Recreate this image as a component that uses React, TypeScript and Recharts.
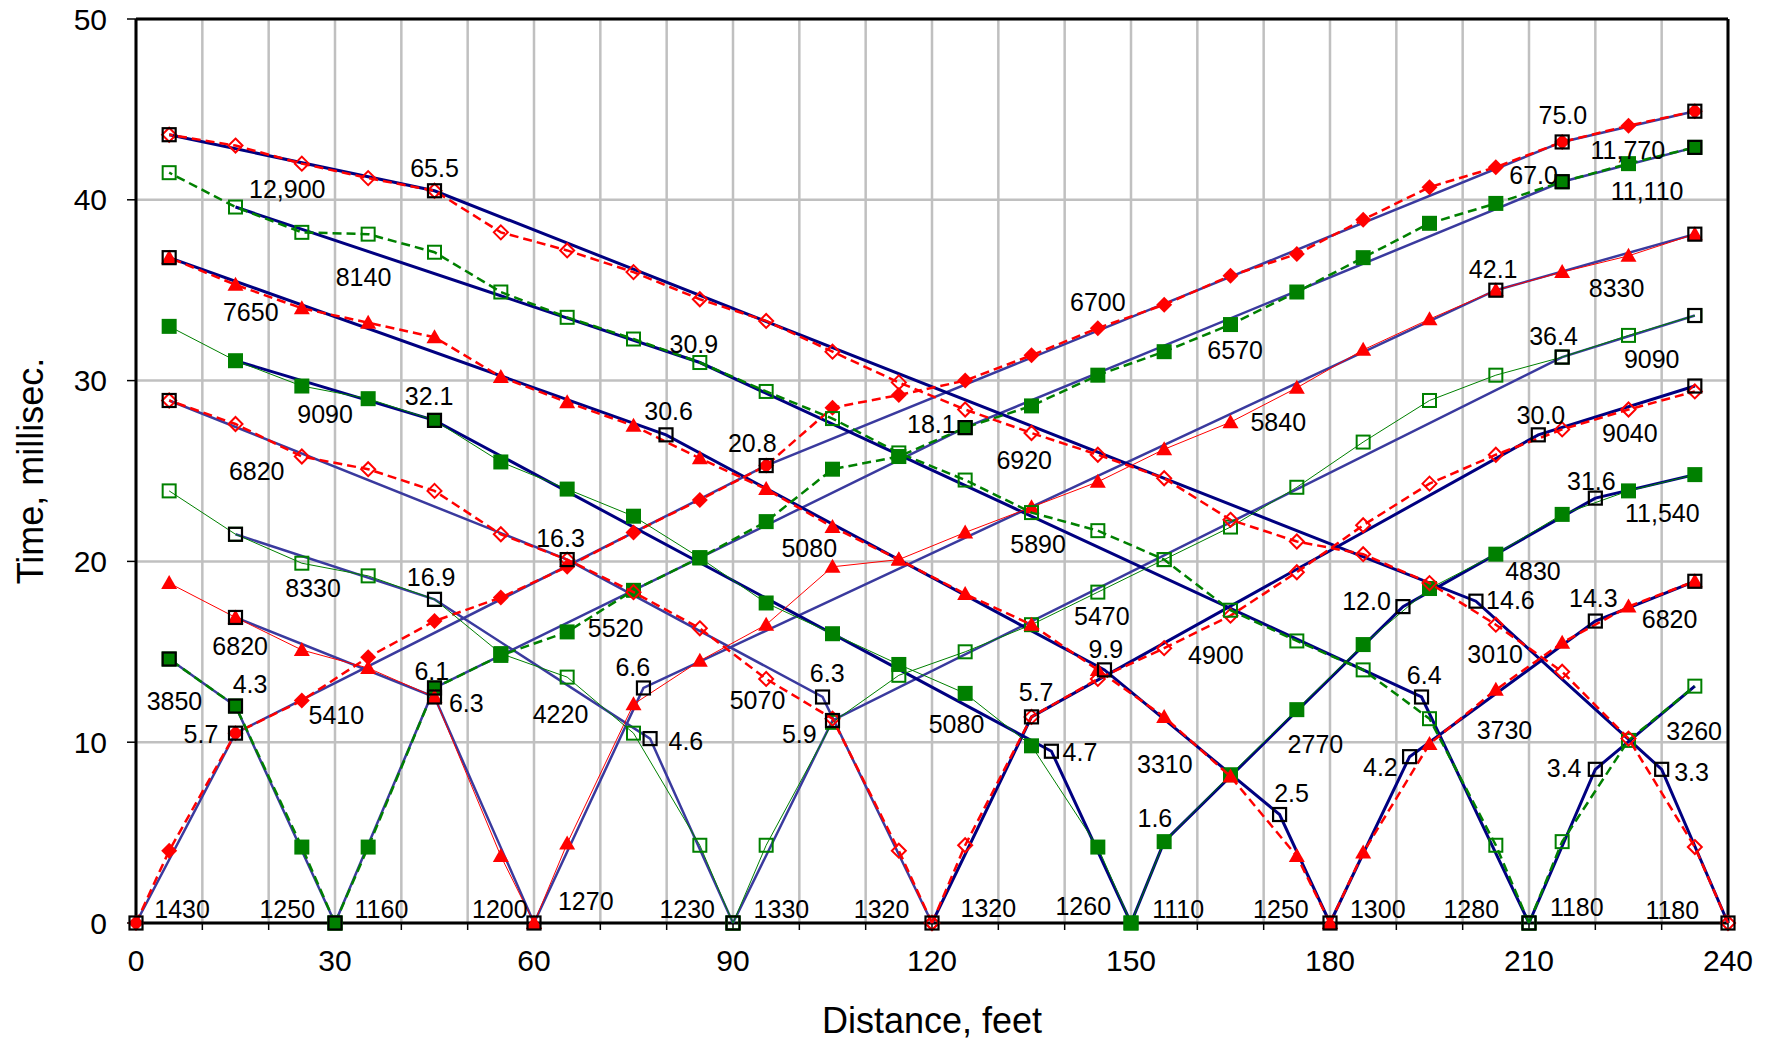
import React from 'react';
import { ScatterChart, Scatter, XAxis, YAxis, CartesianGrid, ReferenceLine } from 'recharts';

const FONT = '"Liberation Sans", Arial, sans-serif';
const RED = '#ff0000';
const GREEN = '#008000';
const NAVY = '#000080';
const BLUE = '#3a3a9e';

// geophone positions, feet
const geophoneX = [5, 15, 25, 35, 45, 55, 65, 75, 85, 95, 105, 115, 125, 135, 145, 155, 165, 175, 185, 195, 205, 215, 225, 235];

// first-arrival times (ms) at each geophone, one list per shot point
const shot0 = [4.0, 10.5, 12.3, 14.7, 16.7, 18.0, 19.7, 21.6, 23.4, 25.3, 28.5, 29.2, 30.0, 31.4, 32.9, 34.2, 35.8, 37.0, 38.9, 40.7, 41.8, 43.2, 44.1, 44.9];
const shot30 = [14.6, 12.0, 4.2, 4.2, 13.0, 14.8, 16.1, 18.4, 20.2, 22.2, 25.1, 25.8, 27.4, 28.6, 30.3, 31.6, 33.1, 34.9, 36.8, 38.7, 39.8, 41.0, 42.0, 42.9];
const shot60 = [18.8, 16.9, 15.1, 14.1, 12.5, 3.7, 4.4, 12.1, 14.5, 16.5, 19.7, 20.1, 21.6, 23.0, 24.4, 26.2, 27.7, 29.6, 31.7, 33.4, 35.0, 36.0, 36.9, 38.1];
const shot90 = [23.9, 21.5, 19.9, 19.2, 17.9, 14.9, 13.6, 10.5, 4.3, 4.3, 11.1, 13.7, 15.0, 16.5, 18.3, 20.1, 21.9, 24.1, 26.6, 28.9, 30.3, 31.3, 32.5, 33.6];
const shot120 = [28.9, 27.6, 25.8, 25.1, 23.9, 21.5, 20.1, 18.3, 16.3, 13.5, 11.3, 4.0, 4.3, 11.4, 13.5, 15.2, 17.0, 19.4, 22.0, 24.3, 25.9, 27.3, 28.4, 29.4];
const shot150 = [33.0, 31.1, 29.7, 29.0, 27.8, 25.5, 24.0, 22.5, 20.2, 17.7, 16.0, 14.3, 12.7, 9.8, 4.2, 4.5, 8.2, 11.8, 15.4, 18.5, 20.4, 22.6, 23.9, 24.8];
const shot180 = [36.8, 35.3, 34.0, 33.2, 32.4, 30.2, 28.8, 27.5, 25.7, 24.0, 21.9, 20.1, 18.2, 16.5, 14.0, 11.4, 8.1, 3.7, 3.9, 9.9, 12.9, 15.5, 17.5, 18.9];
const shot210 = [41.5, 39.6, 38.2, 38.1, 37.1, 34.9, 33.5, 32.3, 31.0, 29.4, 27.9, 26.0, 24.5, 22.7, 21.7, 20.1, 17.3, 15.6, 14.0, 11.3, 4.3, 4.5, 10.1, 13.1];
const shot240 = [43.6, 43.0, 42.0, 41.2, 40.5, 38.2, 37.2, 36.0, 34.5, 33.3, 31.6, 29.9, 28.4, 27.1, 25.9, 24.6, 22.3, 21.1, 20.4, 18.8, 16.5, 13.9, 10.2, 4.2];

// fitted segments [x, t], forward (F) and reverse (R) per shot
const fit0F = [[0, 0], [15, 10.5], [95, 25.3], [215, 43.2], [235, 44.9]];
const fit30R = [[30, 0], [15, 12.0], [5, 14.6]];
const fit30F = [[30, 0], [45, 13.0], [125, 27.4], [215, 41.0], [235, 42.9]];
const fit60R = [[60, 0], [45, 12.5], [15, 16.9]];
const fit60F = [[60, 0], [76.5, 13.0], [205, 35.0], [235, 38.1]];
const fit90R = [[90, 0], [77.5, 10.2], [45, 17.9], [15, 21.5]];
const fit90F = [[90, 0], [105, 11.2], [215, 31.3], [235, 33.6]];
const fit120R = [[120, 0], [103.5, 12.5], [65, 20.1], [5, 28.9]];
const fit120F = [[120, 0], [135, 11.4], [211.4, 27.0], [235, 29.7]];
const fit150R = [[150, 0], [138, 9.5], [45, 27.8], [15, 31.1]];
const fit150F = [[150, 0], [155, 4.5], [191, 17.5], [220, 23.5], [235, 24.8]];
const fit180R = [[180, 0], [172.4, 6.0], [146, 14.0], [79.9, 27.0], [5, 36.8]];
const fit180F = [[180, 0], [192, 9.2], [220, 16.7], [235, 18.9]];
const fit210R = [[210, 0], [193.8, 12.5], [85, 31.0], [15, 39.6]];
const fit210F = [[210, 0], [220, 8.5], [235, 13.1]];
const fit240R = [[240, 0], [230, 8.5], [202, 17.8], [45, 40.5], [5, 43.6]];

// break points marked with open black squares
const breakPoints = [
  [0, 0], [5, 43.6], [5, 36.8], [5, 28.9], [5, 14.6], [15, 21.5], [15, 16.9], [15, 12.0], [15, 10.5],
  [30, 0], [45, 40.5], [45, 27.8], [45, 17.9], [45, 13.0], [45, 12.5], [60, 0], [65, 20.1], [76.5, 13.0],
  [77.5, 10.2], [79.9, 27.0], [90, 0], [95, 25.3], [103.5, 12.5], [105, 11.2], [120, 0], [125, 27.4],
  [135, 11.4], [138, 9.5], [146, 14.0], [172.4, 6.0], [180, 0], [191, 17.5], [192, 9.2], [193.8, 12.5],
  [202, 17.8], [205, 35.0], [210, 0], [211.4, 27.0], [215, 43.2], [215, 41.0], [215, 31.3], [220, 23.5],
  [220, 16.7], [220, 8.5], [230, 8.5], [235, 44.9], [235, 42.9], [235, 38.1], [235, 33.6], [235, 29.7],
  [235, 18.9], [240, 0],
];

// velocities (ft/s) and intercept times (ms), [text, x, t]
const annotations: [string, number, number][] = [
  ['1430', 6.95, 0.8], ['1250', 22.8, 0.75], ['1160', 37.0, 0.75], ['1200', 54.85, 0.75], ['1270', 67.8, 1.2],
  ['1230', 83.1, 0.75], ['1330', 97.3, 0.75], ['1320', 112.4, 0.75], ['1320', 128.5, 0.85], ['1260', 142.8, 0.95],
  ['1110', 157.1, 0.75], ['1250', 172.6, 0.8], ['1300', 187.2, 0.8], ['1280', 201.3, 0.8], ['1180', 217.2, 0.9],
  ['1180', 231.6, 0.72],
  ['3850', 5.8, 12.3], ['4.3', 17.2, 13.2], ['5.7', 9.8, 10.45], ['5410', 30.2, 11.5], ['6.1', 44.6, 13.95],
  ['6.3', 49.8, 12.15], ['4220', 64.0, 11.55], ['6.6', 74.9, 14.15], ['6820', 15.7, 15.3], ['4.6', 82.9, 10.05],
  ['5070', 93.7, 12.35], ['6.3', 104.2, 13.8], ['5.9', 100.0, 10.45], ['5080', 123.7, 11.0], ['5.7', 135.7, 12.75],
  ['4.7', 142.3, 9.45], ['9.9', 146.2, 15.15], ['3310', 155.1, 8.8], ['1.6', 153.6, 5.8], ['4900', 162.8, 14.85],
  ['2770', 177.8, 9.9], ['2.5', 174.2, 7.2], ['4.2', 187.6, 8.65], ['6.4', 194.2, 13.7], ['3730', 206.3, 10.65],
  ['3.4', 215.3, 8.55], ['3.3', 234.5, 8.35], ['3260', 234.9, 10.6], ['3010', 204.9, 14.9],
  ['6570', 165.7, 31.7], ['5840', 172.2, 27.7], ['36.4', 213.7, 32.45], ['9090', 228.5, 31.2], ['30.0', 211.8, 28.1],
  ['9040', 225.2, 27.1], ['31.6', 219.4, 24.45], ['11,540', 230.1, 22.7], ['4830', 210.6, 19.45], ['12.0', 185.5, 17.8],
  ['14.6', 207.2, 17.85], ['14.3', 219.7, 18.0], ['6820', 231.2, 16.8],
  ['75.0', 215.1, 44.7], ['11,770', 224.9, 42.75], ['67.0', 210.7, 41.35], ['11,110', 227.8, 40.5], ['42.1', 204.6, 36.15],
  ['8330', 223.2, 35.1], ['6700', 145.0, 34.35],
  ['65.5', 45.0, 41.75], ['12,900', 22.8, 40.6], ['8140', 34.3, 35.75], ['7650', 17.3, 33.8], ['9090', 28.5, 28.15],
  ['32.1', 44.2, 29.15], ['6820', 18.2, 25.0], ['30.6', 80.3, 28.3], ['16.3', 64.0, 21.3], ['8330', 26.7, 18.55],
  ['16.9', 44.5, 19.15], ['5520', 72.3, 16.3], ['30.9', 84.1, 32.0], ['20.8', 92.9, 26.55], ['18.1', 119.9, 27.6],
  ['6920', 133.9, 25.6], ['5080', 101.5, 20.75], ['5890', 136.0, 20.95], ['5470', 145.6, 17.0],
];

const xTicks = [0, 10, 20, 30, 40, 50, 60, 70, 80, 90, 100, 110, 120, 130, 140, 150, 160, 170, 180, 190, 200, 210, 220, 230, 240];
const yTicks = [0, 10, 20, 30, 40, 50];

type Marker = 'diamond' | 'openDiamond' | 'triangle' | 'square' | 'openSquare';

const shots = [
  { at: 0, times: shot0, color: RED, marker: 'diamond' as Marker, dash: '9 5', width: 2.5 },
  { at: 30, times: shot30, color: GREEN, marker: 'square' as Marker, dash: '9 5', width: 2.5 },
  { at: 60, times: shot60, color: RED, marker: 'triangle' as Marker, dash: undefined, width: 1 },
  { at: 90, times: shot90, color: GREEN, marker: 'openSquare' as Marker, dash: undefined, width: 1 },
  { at: 120, times: shot120, color: RED, marker: 'openDiamond' as Marker, dash: '9 5', width: 2.5 },
  { at: 150, times: shot150, color: GREEN, marker: 'square' as Marker, dash: undefined, width: 1 },
  { at: 180, times: shot180, color: RED, marker: 'triangle' as Marker, dash: '9 5', width: 2.5 },
  { at: 210, times: shot210, color: GREEN, marker: 'openSquare' as Marker, dash: '9 5', width: 2.5 },
  { at: 240, times: shot240, color: RED, marker: 'openDiamond' as Marker, dash: '9 5', width: 2.5 },
];

const fits = [
  { pts: fit0F, color: BLUE, width: 2.5 }, { pts: fit30R, color: BLUE, width: 2.5 },
  { pts: fit30F, color: BLUE, width: 2.5 }, { pts: fit60R, color: BLUE, width: 2.5 },
  { pts: fit60F, color: BLUE, width: 2.5 }, { pts: fit90R, color: BLUE, width: 2.5 },
  { pts: fit90F, color: BLUE, width: 2.5 }, { pts: fit120R, color: BLUE, width: 2.5 },
  { pts: fit120F, color: NAVY, width: 3 }, { pts: fit150R, color: NAVY, width: 3 },
  { pts: fit150F, color: NAVY, width: 3 }, { pts: fit180R, color: NAVY, width: 3 },
  { pts: fit180F, color: NAVY, width: 3 }, { pts: fit210R, color: NAVY, width: 3 },
  { pts: fit210F, color: NAVY, width: 3 }, { pts: fit240R, color: NAVY, width: 3 },
];

const toPoints = (arr: number[][]) => arr.map(([x, y]) => ({ x, y }));

// split a shot into the branch running left and the branch running right
const branches = (at: number, times: number[]) => {
  const pts = geophoneX.map((x, i) => ({ x, y: times[i] }));
  const left = [{ x: at, y: 0 }, ...pts.filter((p) => p.x < at).reverse()];
  const right = [{ x: at, y: 0 }, ...pts.filter((p) => p.x > at)];
  return [left, right].filter((b) => b.length > 1);
};

const markerShape = (kind: Marker, color: string) => (props: any) => {
  const { cx, cy } = props;
  if (cx == null || cy == null) return <g />;
  switch (kind) {
    case 'diamond':
      return <polygon points={`${cx},${cy - 8} ${cx + 8},${cy} ${cx},${cy + 8} ${cx - 8},${cy}`} fill={color} />;
    case 'openDiamond':
      return <polygon points={`${cx},${cy - 7} ${cx + 7},${cy} ${cx},${cy + 7} ${cx - 7},${cy}`} fill="none" stroke={color} strokeWidth={2} />;
    case 'triangle':
      return <polygon points={`${cx},${cy - 8} ${cx + 8},${cy + 6} ${cx - 8},${cy + 6}`} fill={color} />;
    case 'square':
      return <rect x={cx - 7.5} y={cy - 7.5} width={15} height={15} fill={color} />;
    default:
      return <rect x={cx - 6.5} y={cy - 6.5} width={13} height={13} fill="none" stroke={color} strokeWidth={2} />;
  }
};

const noMarker = () => <g />;

const blackSquare = (props: any) => (
  <rect x={props.cx - 6.5} y={props.cy - 6.5} width={13} height={13} fill="none" stroke="#000" strokeWidth={2.2} />
);

const labelShape = (props: any) => (
  <text x={props.cx} y={props.cy} textAnchor="middle" dominantBaseline="central" fontSize={25} fontFamily={FONT} fill="#000">
    {props.payload.text}
  </text>
);

const App: React.FC = () => {
  const labelData = annotations.map(([text, x, y]) => ({ x, y, text }));
  return (
    <div style={{ position: 'absolute', left: 0, top: 0, width: 1774, height: 1042, background: '#fff' }}>
      <ScatterChart width={1774} height={1042} margin={{ top: 19, right: 46, bottom: 0, left: 0 }}>
        <CartesianGrid stroke="#c0c0c0" strokeWidth={2.5} />
        <XAxis
          type="number"
          dataKey="x"
          domain={[0, 240]}
          ticks={xTicks}
          interval={0}
          tickFormatter={(v: number) => (v % 30 === 0 ? String(v) : '')}
          height={119}
          tickSize={7}
          tickMargin={20}
          axisLine={{ stroke: '#000', strokeWidth: 3 }}
          tickLine={{ stroke: '#000', strokeWidth: 1.5 }}
          tick={{ fontSize: 30, fill: '#000', fontFamily: FONT }}
          label={{ value: 'Distance, feet', position: 'insideBottom', offset: 9, fontSize: 36, fill: '#000', fontFamily: FONT }}
        />
        <YAxis
          type="number"
          dataKey="y"
          domain={[0, 50]}
          ticks={yTicks}
          interval={0}
          width={136}
          tickSize={9}
          tickMargin={20}
          axisLine={{ stroke: '#000', strokeWidth: 3 }}
          tickLine={{ stroke: '#000', strokeWidth: 1.5 }}
          tick={{ fontSize: 30, fill: '#000', fontFamily: FONT }}
          label={{
            value: 'Time, millisec.',
            angle: -90,
            position: 'insideLeft',
            offset: 30,
            fontSize: 36,
            fill: '#000',
            fontFamily: FONT,
            style: { textAnchor: 'middle' },
          }}
        />
        <ReferenceLine y={50} stroke="#000" strokeWidth={3} />
        <ReferenceLine x={240} stroke="#000" strokeWidth={3} />

        {fits.map((f, i) => (
          <Scatter
            key={`fit-${i}`}
            data={toPoints(f.pts)}
            fill={f.color}
            line={{ stroke: f.color, strokeWidth: f.width }}
            shape={noMarker}
            isAnimationActive={false}
          />
        ))}

        {shots.map((s) =>
          branches(s.at, s.times).map((b, j) => (
            <Scatter
              key={`shot-${s.at}-${j}`}
              data={b}
              fill={s.color}
              line={{ stroke: s.color, strokeWidth: s.width, strokeDasharray: s.dash }}
              shape={markerShape(s.marker, s.color)}
              isAnimationActive={false}
            />
          ))
        )}

        <Scatter data={toPoints(breakPoints)} fill="#000" shape={blackSquare} isAnimationActive={false} />
        <Scatter data={labelData} fill="#000" shape={labelShape} isAnimationActive={false} />
      </ScatterChart>
    </div>
  );
};

export default App;
